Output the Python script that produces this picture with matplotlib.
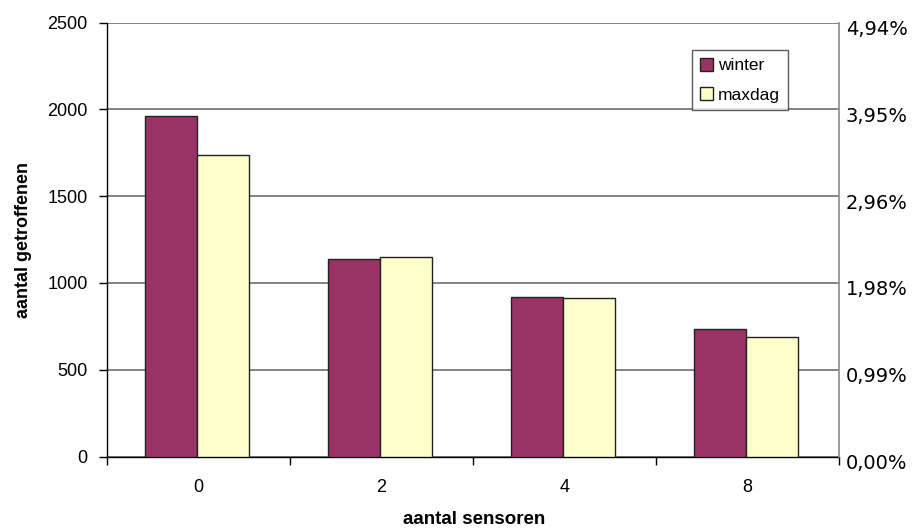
import numpy as np
import matplotlib.pyplot as plt
import matplotlib.transforms as mtransforms
from matplotlib.ticker import FuncFormatter

# Data
sensoren = ['0', '2', '4', '8']
winter = [1960, 1136, 920, 733]
maxdag = [1740, 1147, 912, 687]
totaal = 50600  # reference total for the percentage axis

plt.rcParams['font.family'] = ['Liberation Sans', 'DejaVu Sans']

fig = plt.figure(figsize=(9.22, 5.31), dpi=100)
ax = fig.add_axes([0.1161, 0.1403, 0.9100 - 0.1161, 0.9573 - 0.1403])

x = np.arange(len(sensoren))
w = 0.284
ax.bar(x - w / 2 - 0.01, winter, w, color='#993366', edgecolor='#222222', linewidth=1.0,
       label='winter', zorder=3)
ax.bar(x + w / 2 - 0.01, maxdag, w, color='#FFFFCC', edgecolor='#222222', linewidth=1.0,
       label='maxdag', zorder=3)

ax.set_xlim(-0.5, len(sensoren) - 0.5)
ax.set_ylim(0, 2500)
ax.set_yticks(np.arange(0, 2501, 500))
ax.set_xticks(x)
ax.set_xticklabels(sensoren)
ax.set_xticks(np.arange(-0.5, len(sensoren)), minor=True)
ax.tick_params(axis='x', which='major', length=0, pad=16, labelsize=13)
ax.tick_params(axis='x', which='minor', length=6, width=1, color='black', direction='out')
ax.tick_params(axis='y', length=6, width=1, direction='out', labelsize=13, pad=8)

ax.grid(axis='y', color='#6e6e6e', linewidth=1.2, zorder=0)
ax.spines['top'].set_visible(False)
ax.spines['right'].set_visible(False)
ax.spines['left'].set_linewidth(1.0)
ax.spines['bottom'].set_linewidth(1.0)

ax.set_ylabel('aantal getroffenen', fontsize=13, fontweight='bold', labelpad=11)
fig.text(0.5137, 0.006, 'aantal sensoren', fontsize=13.5, fontweight='bold',
         ha='center', va='bottom')

# Secondary axis with percentages of the total
ax2 = ax.twinx()
ax2.set_ylim(0, 2500)
ax2.set_yticks(np.arange(0, 2501, 500))
ax2.yaxis.set_major_formatter(
    FuncFormatter(lambda v, p: f'{v / totaal * 100:.2f}%'.replace('.', ',')))
ax2.tick_params(axis='y', length=0, pad=5, labelsize=14)
shift = mtransforms.ScaledTranslation(0, -5 / 100, fig.dpi_scale_trans)
for lab in ax2.get_yticklabels():
    lab.set_family('DejaVu Sans')
    lab.set_transform(lab.get_transform() + shift)
for s in ['top', 'left', 'bottom']:
    ax2.spines[s].set_visible(False)
ax2.spines['right'].set_color('#8a8a8a')
ax2.spines['right'].set_linewidth(1.2)

leg = ax.legend(loc='upper left', bbox_to_anchor=(0.799, 0.937), borderaxespad=0,
                frameon=True, fancybox=False, edgecolor='#333333', fontsize=12.5,
                handlelength=0.75, handleheight=0.75, handletextpad=0.3,
                borderpad=0.45, labelspacing=0.8)
leg.get_frame().set_linewidth(1.0)
leg.set_zorder(5)

fig.savefig('out.png', dpi=100)
